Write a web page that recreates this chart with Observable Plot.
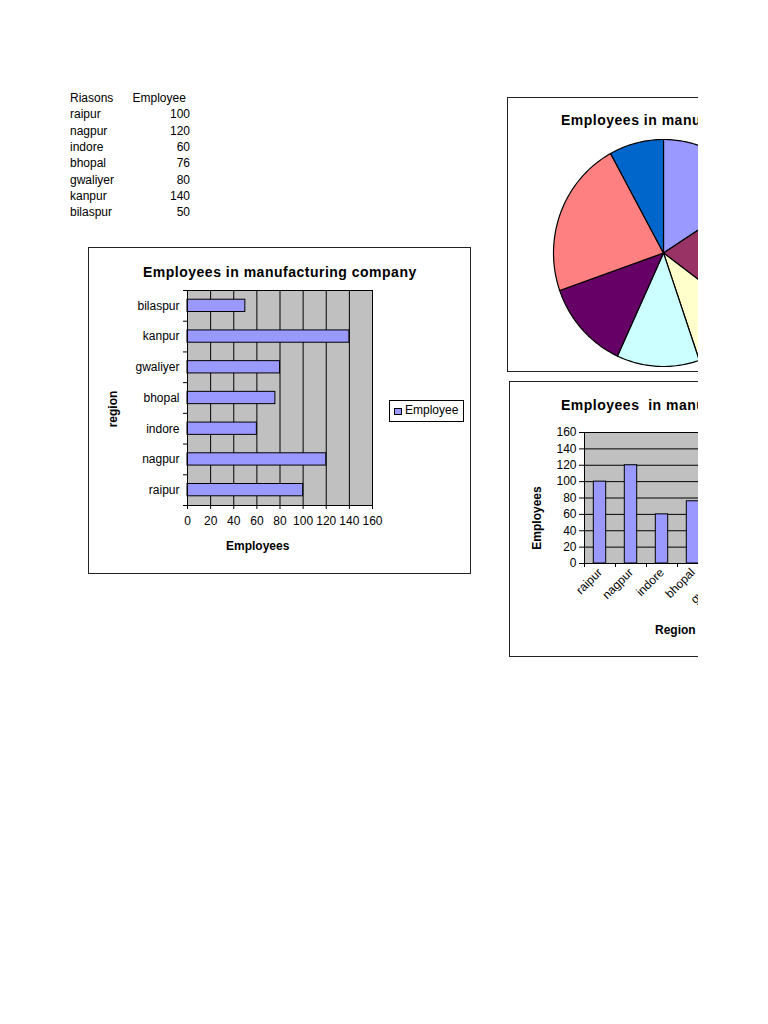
<!DOCTYPE html>
<html><head><meta charset="utf-8">
<script src="https://cdn.jsdelivr.net/npm/d3@7"></script>
<script src="https://cdn.jsdelivr.net/npm/@observablehq/plot@0.6"></script>
<style>
html,body{margin:0;padding:0;background:#fff;}
#page{position:relative;width:698px;height:1024px;overflow:hidden;font-family:"Liberation Sans",Arial,sans-serif;color:#000;background:#fff;}
.box{position:absolute;border:1px solid #222;box-sizing:border-box;}
.title{position:absolute;font-weight:bold;font-size:14px;letter-spacing:0.5px;white-space:pre;line-height:16px;}
.lbl{position:absolute;font-weight:bold;font-size:12px;white-space:pre;line-height:14px;}
.cell{position:absolute;font-size:12px;line-height:16.3px;white-space:pre;}
.holder{position:absolute;}
.holder svg{display:block;overflow:visible;max-width:none !important;}
</style></head><body><div id="page"></div>
<script>
// ---- data ----
const regions = ["raipur","nagpur","indore","bhopal","gwaliyer","kanpur","bilaspur"];
const employees = [100,120,60,76,80,140,50];
const tableHeader = ["Riasons","Employee"];
const valueTicks = [0,20,40,60,80,100,120,140,160];
const pieColors = ["#9999FF","#993366","#FFFFCC","#CCFFFF","#660066","#FF8080","#0066CC"];
const barColor = "#9999FF";
const chartTitle = "Employees in manufacturing company";
const columnTitle = "Employees  in manufacturing company";
const seriesName = "Employee";

const page = document.getElementById("page");
function add(html, cls, style){const d=document.createElement("div");d.className=cls;d.innerHTML=html;Object.assign(d.style,style);page.appendChild(d);return d;}
function place(svg, left, top, w, h){const d=document.createElement("div");d.className="holder";Object.assign(d.style,{left:left+"px",top:top+"px",width:w+"px",height:h+"px"});svg.style.width=w+"px";svg.style.height=h+"px";d.appendChild(svg);page.appendChild(d);}

// ---- table ----
add(tableHeader[0],"cell",{left:"70px",top:"90px"});
add(tableHeader[1],"cell",{left:"132.5px",top:"90px"});
regions.forEach((r,i)=>{
  const top = 90 + 16.3*(i+1);
  add(r,"cell",{left:"70px",top:top+"px"});
  add(String(employees[i]),"cell",{left:"130px",width:"60px",textAlign:"right",top:top+"px"});
});

const rows = regions.map((r,i)=>({region:r, value:employees[i], i}));
const centers = rows.map(d=>d.i+0.5);
const font = {background:"transparent",fontFamily:"'Liberation Sans',Arial,sans-serif",fontSize:"12px",color:"#000",overflow:"visible"};

// ---- horizontal bar chart ----
add("","box",{left:"88px",top:"247px",width:"383px",height:"327px"});
const bar = Plot.plot({
  width:383, height:327, marginLeft:99, marginRight:99, marginTop:43, marginBottom:69,
  style:font,
  x:{domain:[0,160]}, y:{domain:[0,7]},
  marks:[
    Plot.frame({fill:"#C0C0C0"}),
    Plot.ruleX(valueTicks.slice(1,-1),{stroke:"#000"}),
    Plot.rectX(rows,{x1:0,x2:"value",y1:d=>d.i+0.3,y2:d=>d.i+0.7,fill:barColor,stroke:"#000"}),
    Plot.frame({stroke:"#000"}),
    Plot.axisX({ticks:valueTicks,tickSize:4,tickPadding:7,label:null}),
    Plot.axisY({ticks:d3.range(8),tickSize:4,tickFormat:()=>"",label:null}),
    Plot.axisY({ticks:centers,tickSize:0,tickPadding:8,tickFormat:v=>regions[Math.floor(v)],label:null})
  ]
});
place(bar,88,247,383,327);
add(chartTitle,"title",{left:"143px",top:"264px"});
add("Employees","lbl",{left:"226px",top:"539px"});
add("region","lbl",{left:"93px",top:"402px",width:"40px",textAlign:"center",transform:"rotate(-90deg)"});
// legend
add("","box",{left:"389px",top:"400px",width:"75px",height:"22px",border:"1px solid #000"});
add("","box",{left:"394px",top:"407.5px",width:"8px",height:"7px",background:barColor,border:"1px solid #000"});
add(seriesName,"cell",{left:"405px",top:"402px"});

// ---- pie chart ----
add("","box",{left:"507px",top:"97px",width:"383px",height:"275px"});
add(chartTitle,"title",{left:"561px",top:"112px"});
const arcs = d3.pie().sort(null)(employees);
const sliceMarks = arcs.map((a,k)=>{
  const n = Math.max(2, Math.ceil((a.endAngle-a.startAngle)/0.02));
  const pts = [{px:0,py:0}];
  for(let j=0;j<=n;j++){const t=a.startAngle+(a.endAngle-a.startAngle)*j/n;pts.push({px:Math.sin(t),py:Math.cos(t)});}
  pts.push({px:0,py:0});
  return Plot.line(pts,{x:"px",y:"py",fill:pieColors[k],stroke:"#000",strokeWidth:1.2,curve:"linear",strokeLinejoin:"round"});
});
const pie = Plot.plot({
  width:224, height:231, margin:2, style:font,
  x:{domain:[-1,1],axis:null}, y:{domain:[-1,1],axis:null},
  marks:sliceMarks
});
place(pie,550.7,136.5,224,231);

// ---- column chart ----
add("","box",{left:"509px",top:"381px",width:"383px",height:"276px"});
add(columnTitle,"title",{left:"561px",top:"397px"});
const col = Plot.plot({
  width:383, height:275, marginLeft:74, marginRight:92, marginTop:50, marginBottom:94,
  style:font,
  x:{domain:[0,7]}, y:{domain:[0,160]},
  marks:[
    Plot.frame({fill:"#C0C0C0"}),
    Plot.ruleY(valueTicks.slice(1,-1),{stroke:"#000"}),
    Plot.rectY(rows,{x1:d=>d.i+0.3,x2:d=>d.i+0.7,y1:0,y2:"value",fill:barColor,stroke:"#000"}),
    Plot.frame({stroke:"#000"}),
    Plot.axisY({ticks:valueTicks,tickSize:5,tickPadding:3,label:null}),
    Plot.axisX({ticks:d3.range(8),tickSize:4,tickFormat:()=>"",label:null}),
    Plot.axisX({ticks:centers,tickSize:0,tickPadding:7,tickRotate:-45,tickFormat:v=>regions[Math.floor(v)],label:null})
  ]
});
place(col,510,382,383,275);
add("Region","lbl",{left:"655px",top:"623px"});
add("Employees","lbl",{left:"505px",top:"511px",width:"64px",textAlign:"center",transform:"rotate(-90deg)"});
</script></body></html>
